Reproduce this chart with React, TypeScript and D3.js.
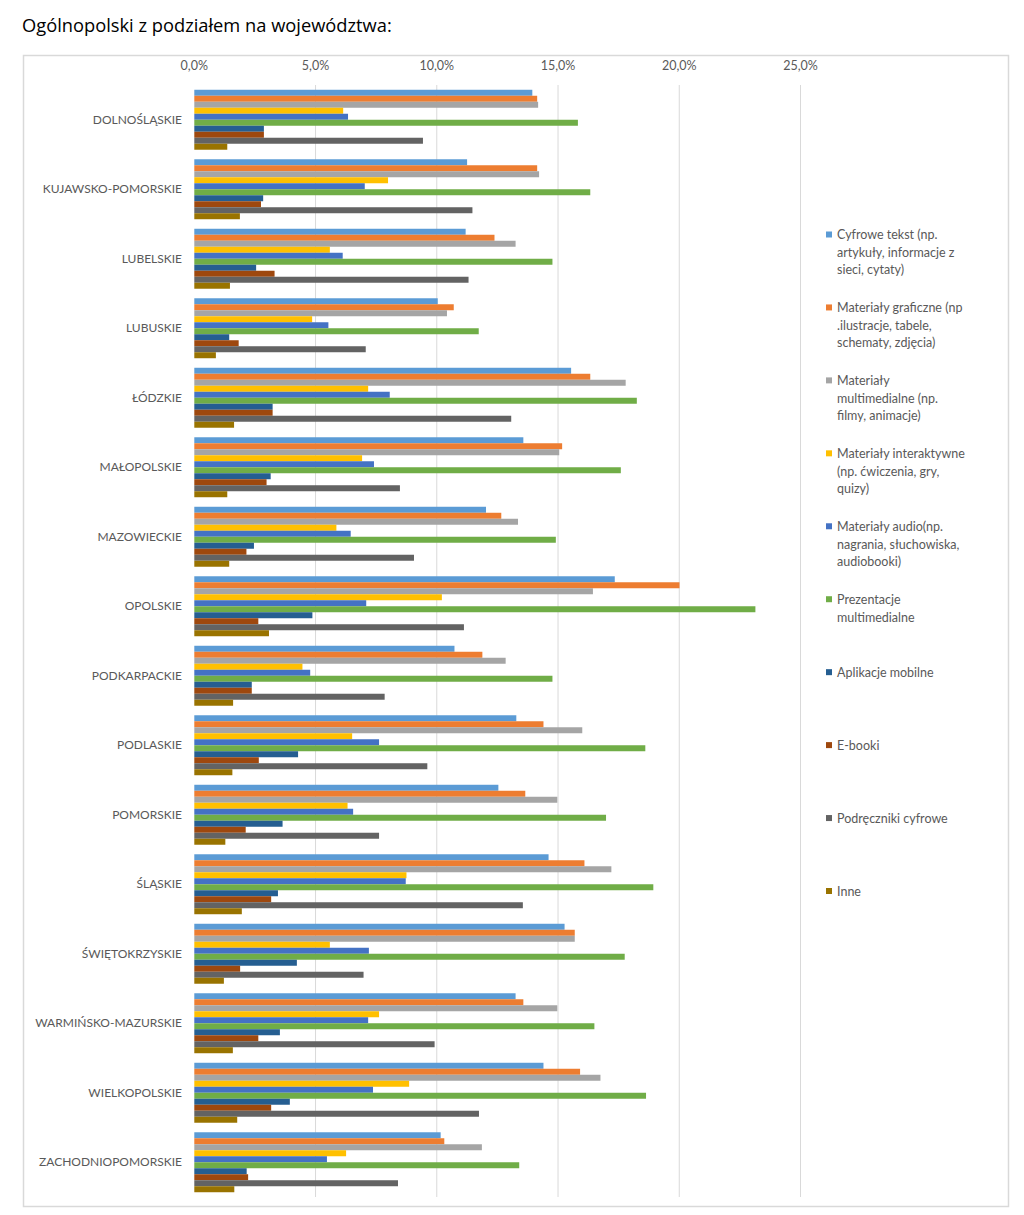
import React from "react";
import * as d3 from "d3";

const categories = [
  "DOLNOŚLĄSKIE", "KUJAWSKO-POMORSKIE", "LUBELSKIE", "LUBUSKIE", "ŁÓDZKIE", "MAŁOPOLSKIE",
  "MAZOWIECKIE", "OPOLSKIE", "PODKARPACKIE", "PODLASKIE", "POMORSKIE", "ŚLĄSKIE",
  "ŚWIĘTOKRZYSKIE", "WARMIŃSKO-MAZURSKIE", "WIELKOPOLSKIE", "ZACHODNIOPOMORSKIE",
];

const seriesLegend: string[][] = [
  ["Cyfrowe tekst (np.", "artykuły, informacje z", "sieci, cytaty)"],
  ["Materiały graficzne (np", ".ilustracje, tabele,", "schematy, zdjęcia)"],
  ["Materiały", "multimedialne (np.", "filmy, animacje)"],
  ["Materiały interaktywne", "(np. ćwiczenia, gry,", "quizy)"],
  ["Materiały audio(np.", "nagrania, słuchowiska,", "audiobooki)"],
  ["Prezentacje", "multimedialne"],
  ["Aplikacje mobilne"],
  ["E-booki"],
  ["Podręczniki cyfrowe"],
  ["Inne"],
];

const seriesColors = [
  "#5B9BD5", "#ED7D31", "#A5A5A5", "#FFC000", "#4472C4",
  "#70AD47", "#255E91", "#9E480E", "#636363", "#997300",
];

const cyfroweTekst = [13.94, 11.25, 11.19, 10.04, 15.54, 13.57, 12.03, 17.34, 10.73, 13.28, 12.54, 14.61, 15.27, 13.25, 14.4, 10.16];
const graficzne = [14.14, 14.14, 12.38, 10.7, 16.33, 15.17, 12.66, 20.01, 11.88, 14.4, 13.65, 16.09, 15.69, 13.57, 15.91, 10.31];
const multimedialne = [14.18, 14.22, 13.25, 10.42, 17.79, 15.05, 13.35, 16.44, 12.84, 16.0, 14.97, 17.2, 15.69, 14.97, 16.75, 11.86];
const interaktywne = [6.14, 7.99, 5.59, 4.86, 7.17, 6.92, 5.86, 10.21, 4.46, 6.51, 6.32, 8.75, 5.59, 7.62, 8.86, 6.26];
const audio = [6.34, 7.03, 6.12, 5.53, 8.06, 7.41, 6.45, 7.09, 4.78, 7.62, 6.55, 8.72, 7.2, 7.17, 7.37, 5.47];
const prezentacje = [15.82, 16.33, 14.77, 11.73, 18.25, 17.59, 14.91, 23.14, 14.77, 18.6, 16.98, 18.93, 17.75, 16.5, 18.63, 13.4];
const aplikacje = [2.87, 2.84, 2.55, 1.44, 3.23, 3.15, 2.46, 4.87, 2.37, 4.28, 3.64, 3.45, 4.23, 3.53, 3.94, 2.16];
const ebooki = [2.87, 2.75, 3.31, 1.83, 3.23, 2.98, 2.15, 2.64, 2.37, 2.66, 2.12, 3.17, 1.89, 2.64, 3.17, 2.22];
const podreczniki = [9.43, 11.47, 11.31, 7.07, 13.07, 8.48, 9.06, 11.12, 7.85, 9.61, 7.62, 13.55, 6.98, 9.91, 11.74, 8.4];
const inne = [1.36, 1.88, 1.47, 0.89, 1.64, 1.36, 1.44, 3.08, 1.6, 1.57, 1.28, 1.96, 1.22, 1.59, 1.77, 1.65];

const seriesValues = [cyfroweTekst, graficzne, multimedialne, interaktywne, audio, prezentacje, aplikacje, ebooki, podreczniki, inne];

const ticks = [0, 5, 10, 15, 20, 25];
const title = "Ogólnopolski z podziałem na województwa:";

const W = 1024;
const H = 1215;
const FONT = "Lato, 'Open Sans', sans-serif";
const TITLE_FONT = "'Open Sans', Lato, sans-serif";
const TEXT = "#595959";

export default function App() {
  const x = d3.scaleLinear().domain([0, 25]).range([194.3, 800.5]);
  const y0 = d3
    .scaleBand<string>()
    .domain(categories)
    .range([85, 1197])
    .paddingInner(0.137)
    .paddingOuter(0.0685);
  const seriesIdx = d3.range(seriesValues.length).map(String);
  const y1 = d3.scaleBand<string>().domain(seriesIdx).range([0, y0.bandwidth()]);
  const fmt = (v: number) => v.toFixed(1).replace(".", ",") + "%";
  const legendY = d3.scaleLinear().domain([0, 9]).range([235, 891.5]);

  return (
    <svg width={W} height={H} style={{ position: "absolute", left: 0, top: 0, background: "#fff" }}>
      <rect x={0} y={0} width={W} height={H} fill="#fff" />
      <text x={22} y={32} fontFamily={TITLE_FONT} fontSize={18.3} fill="#000">
        {title}
      </text>
      <rect x={23.5} y={55.5} width={985} height={1151} fill="#fff" stroke="#D9D9D9" strokeWidth={1.5} />
      {ticks.slice(1).map((t) => (
        <line key={"g" + t} x1={x(t)} x2={x(t)} y1={85} y2={1197} stroke="#D9D9D9" strokeWidth={1} />
      ))}
      {ticks.map((t) => (
        <text key={"t" + t} x={x(t)} y={70} textAnchor="middle" fontFamily={FONT} fontSize={12.5} fill={TEXT}>
          {fmt(t)}
        </text>
      ))}
      {categories.map((c, ci) => (
        <g key={c} transform={`translate(0,${y0(c)})`}>
          <text
            x={182}
            y={y0.bandwidth() / 2}
            dy="0.35em"
            textAnchor="end"
            fontFamily={FONT}
            fontSize={12}
            fill={TEXT}
          >
            {c}
          </text>
          {seriesValues.map((vals, si) => (
            <rect
              key={si}
              x={x(0)}
              y={y1(String(si))}
              width={x(vals[ci]) - x(0)}
              height={y1.bandwidth()}
              fill={seriesColors[si]}
            />
          ))}
        </g>
      ))}
      {seriesLegend.map((lines, si) => (
        <g key={"l" + si} transform={`translate(826,${legendY(si)})`}>
          <rect x={0} y={-3.5} width={6} height={6} fill={seriesColors[si]} />
          {lines.map((ln, li) => (
            <text key={li} x={11} y={li * 17.5} dy="0.35em" fontFamily={FONT} fontSize={12.5} fill={TEXT}>
              {ln}
            </text>
          ))}
        </g>
      ))}
    </svg>
  );
}
